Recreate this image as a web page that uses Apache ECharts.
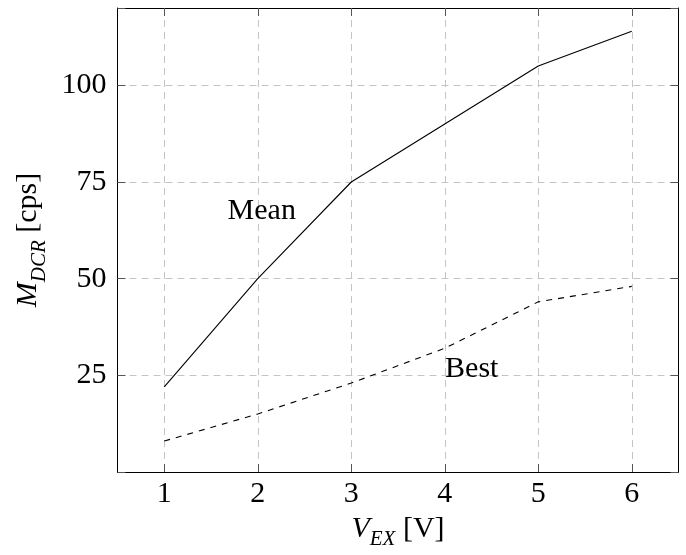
<!DOCTYPE html>
<html>
<head>
<meta charset="utf-8">
<script src="https://cdn.jsdelivr.net/npm/echarts@6/dist/echarts.min.js"></script>
<style>
  html, body { margin: 0; padding: 0; background: #fff; }
  #main { width: 686px; height: 555px; }
</style>
</head>
<body>
<div id="main"></div>
<script>
var categories = ["1", "2", "3", "4", "5", "6"];
var meanValues = [22, 50, 75, 90, 105, 114];
var bestValues = [8, 15, 23, 32, 44, 48];
var yTicks = [25, 50, 75, 100];

var myChart = echarts.init(document.getElementById("main"));

var font = "Liberation Serif";
var gridLine = { show: true, lineStyle: { color: "#c4c4c4", type: [7, 5], width: 1 } };
var frame = { show: true, onZero: false, lineStyle: { color: "#000", width: 1 } };
var ticks = { show: true, inside: true, length: 8, lineStyle: { color: "#555" } };

var option = {
  animation: false,
  grid: { left: 117.5, right: 7.5, top: 8, bottom: 79 },
  xAxis: [
    {
      type: "category",
      data: categories,
      boundaryGap: true,
      axisLine: frame,
      axisTick: Object.assign({ alignWithLabel: true }, ticks),
      splitLine: Object.assign({ alignWithLabel: true }, gridLine),
      axisLabel: { fontFamily: font, fontSize: 30, color: "#000", margin: 7 },
      name: "{i|V}{s|EX}{n| [V]}",
      nameLocation: "middle",
      nameGap: 42,
      nameTextStyle: {
        fontFamily: font,
        color: "#000",
        rich: {
          i: { fontFamily: font, fontSize: 30, fontStyle: "italic", color: "#000", verticalAlign: "bottom", padding: [0, 0, 6, 0] },
          s: { fontFamily: font, fontSize: 21, fontStyle: "italic", color: "#000", verticalAlign: "bottom" },
          n: { fontFamily: font, fontSize: 30, color: "#000", verticalAlign: "bottom", padding: [0, 0, 6, 0] }
        }
      }
    },
    {
      type: "category",
      data: categories,
      position: "top",
      boundaryGap: true,
      axisLine: frame,
      axisTick: Object.assign({ alignWithLabel: true }, ticks),
      axisLabel: { show: false },
      splitLine: { show: false }
    }
  ],
  yAxis: [
    {
      type: "value",
      min: 0,
      max: 120,
      interval: 25,
      axisLine: frame,
      axisTick: ticks,
      splitLine: gridLine,
      axisLabel: {
        fontFamily: font, fontSize: 30, color: "#000", margin: 11,
        formatter: function (v) { return yTicks.indexOf(v) >= 0 ? String(v) : ""; }
      },
      name: "{i|M}{s|DCR}{n| [cps]}",
      nameLocation: "middle",
      nameRotate: 90,
      nameGap: 68,
      nameTextStyle: {
        fontFamily: font,
        color: "#000",
        rich: {
          i: { fontFamily: font, fontSize: 30, fontStyle: "italic", color: "#000", verticalAlign: "bottom", padding: [0, 0, 6, 0] },
          s: { fontFamily: font, fontSize: 21, fontStyle: "italic", color: "#000", verticalAlign: "bottom" },
          n: { fontFamily: font, fontSize: 30, color: "#000", verticalAlign: "bottom", padding: [0, 0, 6, 0] }
        }
      }
    },
    {
      type: "value",
      position: "right",
      min: 0,
      max: 120,
      interval: 25,
      axisLine: frame,
      axisTick: ticks,
      axisLabel: { show: false },
      splitLine: { show: false }
    }
  ],
  series: [
    {
      name: "Mean",
      type: "line",
      data: meanValues,
      symbol: "none",
      lineStyle: { color: "#000", width: 1.1 },
      markPoint: {
        symbol: "circle",
        symbolSize: 0,
        data: [{ coord: ["2", 68] }],
        label: { show: true, formatter: "Mean", position: "inside", offset: [4, 2], fontFamily: font, fontSize: 30, color: "#000" }
      }
    },
    {
      name: "Best",
      type: "line",
      data: bestValues,
      symbol: "none",
      lineStyle: { color: "#000", width: 1.1, type: [6, 6] },
      markPoint: {
        symbol: "circle",
        symbolSize: 0,
        data: [{ coord: ["4", 28] }],
        label: { show: true, formatter: "Best", position: "inside", offset: [27, 5], fontFamily: font, fontSize: 30, color: "#000" }
      }
    }
  ]
};

myChart.setOption(option);
</script>
</body>
</html>
